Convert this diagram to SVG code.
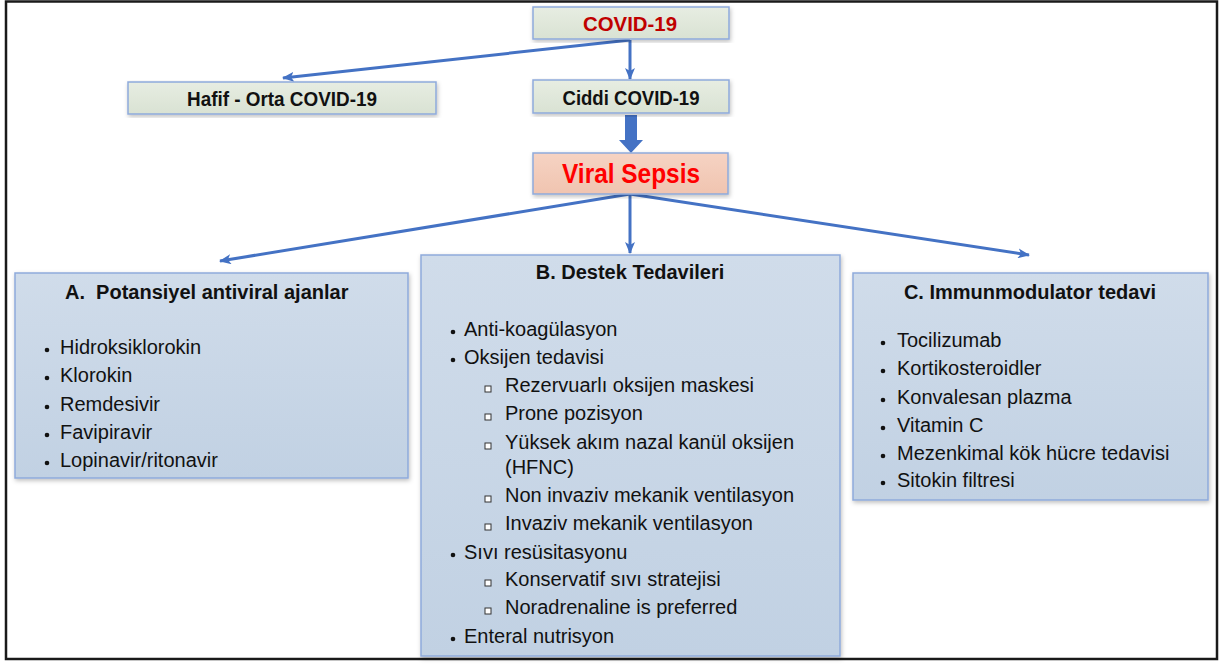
<svg xmlns="http://www.w3.org/2000/svg" width="1219" height="664" viewBox="0 0 1219 664">
<defs>
<style>
.t{font-family:"Liberation Sans",Arial,sans-serif;font-size:20px;fill:#111}
.b{font-weight:bold}
.c{text-anchor:middle}
.sm{fill:url(#gSmall);stroke:#8eaadb;stroke-width:1.5}
.big{fill:url(#gBig);stroke:#8eaadb;stroke-width:1.5}
.con{stroke:#4472c4;stroke-width:3;fill:none}
.dot{fill:#111}
.sq{fill:#fff;stroke:#333;stroke-width:1}
</style>
<linearGradient id="gSmall" x1="0" y1="0" x2="0" y2="1">
<stop offset="0" stop-color="#e7ede2"/>
<stop offset="1" stop-color="#d9e2d3"/>
</linearGradient>
<linearGradient id="gBig" x1="0" y1="0" x2="0" y2="1">
<stop offset="0" stop-color="#d0dcea"/>
<stop offset="1" stop-color="#c1d1e3"/>
</linearGradient>
<linearGradient id="gSep" x1="0" y1="0" x2="0" y2="1">
<stop offset="0" stop-color="#f6d3c3"/>
<stop offset="1" stop-color="#f0c4b0"/>
</linearGradient>
<filter id="sh" x="-5%" y="-5%" width="112%" height="115%">
<feDropShadow dx="1" dy="2" stdDeviation="2" flood-color="#000" flood-opacity="0.25"/>
</filter>
<marker id="ah" markerUnits="userSpaceOnUse" markerWidth="12" markerHeight="10" refX="11" refY="5" orient="auto">
<path d="M0,0 L12,5 L0,10 L3,5 z" fill="#4472c4"/>
</marker>
</defs>
<rect x="0" y="0" width="1219" height="664" fill="#fff"/>
<rect x="6" y="1.5" width="1211" height="657.5" fill="none" stroke="#1a1a1a" stroke-width="2.5"/>

<g id="connectors">
<line class="con" x1="630" y1="40" x2="283" y2="78" marker-end="url(#ah)"/>
<line class="con" x1="630" y1="40" x2="630" y2="79" marker-end="url(#ah)"/>
<polygon points="625,115 637,115 637,140 643,140 631,153 619,140 625,140" fill="#4472c4"/>
<line class="con" x1="630" y1="194" x2="220" y2="261" marker-end="url(#ah)"/>
<line class="con" x1="630" y1="194" x2="630" y2="253" marker-end="url(#ah)"/>
<line class="con" x1="630" y1="194" x2="1029" y2="255" marker-end="url(#ah)"/>
</g>

<g id="covid">
<rect class="sm" x="533" y="7" width="196" height="32" filter="url(#sh)"/>
<text class="t b c" x="630" y="31" style="font-size:21px;fill:#c00000" textLength="94" lengthAdjust="spacingAndGlyphs">COVID-19</text>
</g>
<g id="hafif">
<rect class="sm" x="128" y="82" width="308" height="32" filter="url(#sh)"/>
<text class="t b c" x="282" y="106" style="font-size:21px" textLength="190" lengthAdjust="spacingAndGlyphs">Hafif - Orta COVID-19</text>
</g>
<g id="ciddi">
<rect class="sm" x="533" y="80" width="196" height="33" filter="url(#sh)"/>
<text class="t b c" x="631" y="104.5" style="font-size:21px" textLength="137" lengthAdjust="spacingAndGlyphs">Ciddi COVID-19</text>
</g>
<g id="sepsis">
<rect x="533" y="153" width="195" height="41" fill="url(#gSep)" stroke="#8eaadb" stroke-width="1.5" filter="url(#sh)"/>
<text class="t b c" x="631" y="183" style="font-size:27px;fill:#ff0000" textLength="138" lengthAdjust="spacingAndGlyphs">Viral Sepsis</text>
</g>

<g id="boxA">
<rect class="big" x="15" y="273" width="393" height="205" filter="url(#sh)"/>
<text class="t b" x="65" y="299" xml:space="preserve">A.  Potansiyel antiviral ajanlar</text>
<circle class="dot" cx="47" cy="350" r="2.3"/><text class="t" x="60" y="354">Hidroksiklorokin</text>
<circle class="dot" cx="47" cy="378" r="2.3"/><text class="t" x="60" y="382">Klorokin</text>
<circle class="dot" cx="47" cy="407" r="2.3"/><text class="t" x="60" y="411">Remdesivir</text>
<circle class="dot" cx="47" cy="435" r="2.3"/><text class="t" x="60" y="439">Favipiravir</text>
<circle class="dot" cx="47" cy="463" r="2.3"/><text class="t" x="60" y="467">Lopinavir/ritonavir</text>
</g>

<g id="boxB">
<rect class="big" x="421" y="255" width="419" height="401" filter="url(#sh)"/>
<text class="t b c" x="630" y="279">B. Destek Tedavileri</text>
<circle class="dot" cx="453" cy="332" r="2.3"/><text class="t" x="464" y="336">Anti-koagülasyon</text>
<circle class="dot" cx="453" cy="360" r="2.3"/><text class="t" x="464" y="364">Oksijen tedavisi</text>
<rect class="sq" x="485" y="386" width="6" height="6"/><text class="t" x="505" y="392">Rezervuarlı oksijen maskesi</text>
<rect class="sq" x="485" y="414" width="6" height="6"/><text class="t" x="505" y="420">Prone pozisyon</text>
<rect class="sq" x="485" y="443" width="6" height="6"/><text class="t" x="505" y="449">Yüksek akım nazal kanül oksijen</text>
<text class="t" x="505" y="474">(HFNC)</text>
<rect class="sq" x="485" y="496" width="6" height="6"/><text class="t" x="505" y="502">Non invaziv mekanik ventilasyon</text>
<rect class="sq" x="485" y="524" width="6" height="6"/><text class="t" x="505" y="530">Invaziv mekanik ventilasyon</text>
<circle class="dot" cx="453" cy="555" r="2.3"/><text class="t" x="464" y="559">Sıvı resüsitasyonu</text>
<rect class="sq" x="485" y="580" width="6" height="6"/><text class="t" x="505" y="586">Konservatif sıvı stratejisi</text>
<rect class="sq" x="485" y="608" width="6" height="6"/><text class="t" x="505" y="614">Noradrenaline is preferred</text>
<circle class="dot" cx="453" cy="639" r="2.3"/><text class="t" x="464" y="643">Enteral nutrisyon</text>
</g>

<g id="boxC">
<rect class="big" x="853" y="273" width="355" height="227" filter="url(#sh)"/>
<text class="t b c" x="1030" y="299">C. Immunmodulator tedavi</text>
<circle class="dot" cx="883" cy="343" r="2.3"/><text class="t" x="897" y="347">Tocilizumab</text>
<circle class="dot" cx="883" cy="371" r="2.3"/><text class="t" x="897" y="375">Kortikosteroidler</text>
<circle class="dot" cx="883" cy="400" r="2.3"/><text class="t" x="897" y="404">Konvalesan plazma</text>
<circle class="dot" cx="883" cy="428" r="2.3"/><text class="t" x="897" y="432">Vitamin C</text>
<circle class="dot" cx="883" cy="456" r="2.3"/><text class="t" x="897" y="460">Mezenkimal kök hücre tedavisi</text>
<circle class="dot" cx="883" cy="483" r="2.3"/><text class="t" x="897" y="487">Sitokin filtresi</text>
</g>
</svg>
